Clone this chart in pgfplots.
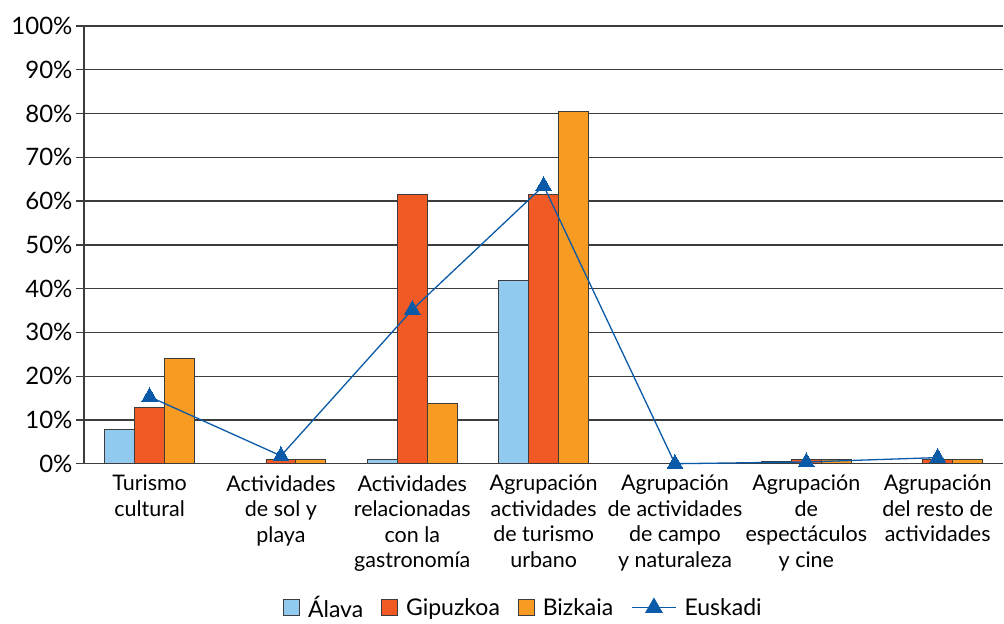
\documentclass[border=0pt]{standalone}
\usepackage{pgfplots}
\pgfplotsset{compat=1.18}
\usepackage{fontspec}
\setmainfont{Lato}
\definecolor{alava}{HTML}{92C9EE}
\definecolor{gipuzkoa}{HTML}{F15A24}
\definecolor{bizkaia}{HTML}{F79B23}
\definecolor{euskadi}{HTML}{0A5AA8}
\definecolor{edge}{HTML}{3C3C3C}
\begin{document}
\begin{tikzpicture}
\begin{axis}[
 scale only axis, width=920pt, height=438pt,
 xmin=-0.5, xmax=6.5, ymin=0, ymax=100,
 axis x line*=bottom, axis y line*=left,
 axis line style={edge, line width=1.3pt},
 xtick={0,...,6},
 xticklabels={{Turismo\\cultural},{Actividades\\de sol y\\playa},{Actividades\\relacionadas\\con la\\gastronomía},{Agrupación\\actividades\\de turismo\\urbano},{Agrupación\\de actividades\\de campo\\y naturaleza},{Agrupación\\de\\espectáculos\\y cine},{Agrupación\\del resto de\\actividades}},
 x tick label style={align=center, font=\fontsize{21.5}{25.5}\selectfont, anchor=north, yshift=0pt},
 major x tick style={draw=none},
 ytick={0,10,...,100},
 yticklabel={\pgfmathprintnumber{\tick}\%},
 y tick label style={font=\fontsize{24}{28}\selectfont},
 /pgf/number format/assume math mode=true,
 ymajorgrids, grid style={edge, line width=1.3pt},
 tick align=outside, major tick length=8pt,
 y tick style={edge, line width=1.3pt},
 bar width=30pt,
 clip=false,
 legend columns=4,
 legend style={draw=none, at={(0.478,-0.329)}, anchor=center, font=\fontsize{23}{26}\selectfont,
   /tikz/every odd column/.append style={column sep=6pt},
   /tikz/every even column/.append style={column sep=16pt}},
]
\addplot[ybar, bar shift=-30pt, fill=alava, draw=edge, line width=0.9pt,
  legend image code/.code={\draw[fill=alava,draw=edge,line width=0.9pt] (0pt,-8pt) rectangle (16pt,8pt);}]
  coordinates {(0,7.9) (1,0) (2,1.0) (3,41.8) (4,0) (5,0.5) (6,0)};
\addlegendentry{Álava}
\addplot[ybar, bar shift=0pt, fill=gipuzkoa, draw=edge, line width=0.9pt,
  legend image code/.code={\draw[fill=gipuzkoa,draw=edge,line width=0.9pt] (0pt,-8pt) rectangle (16pt,8pt);}]
  coordinates {(0,12.8) (1,1.0) (2,61.6) (3,61.6) (4,0) (5,1.0) (6,1.0)};
\addlegendentry{Gipuzkoa}
\addplot[ybar, bar shift=30pt, fill=bizkaia, draw=edge, line width=0.9pt,
  legend image code/.code={\draw[fill=bizkaia,draw=edge,line width=0.9pt] (0pt,-8pt) rectangle (16pt,8pt);}]
  coordinates {(0,24.0) (1,1.0) (2,13.7) (3,80.5) (4,0) (5,1.0) (6,1.0)};
\addlegendentry{Bizkaia}
\addplot[sharp plot, color=euskadi, line width=1.3pt, mark=triangle*, mark size=9pt,
  mark options={fill=euskadi, draw=euskadi, line width=0pt},
  legend image code/.code={\draw[euskadi, line width=1.3pt] (0pt,0pt) -- (44pt,0pt);
    \fill[euskadi] (22pt,9pt) -- (14.2pt,-4.5pt) -- (29.8pt,-4.5pt) -- cycle;}]
  coordinates {(0,15.3) (1,1.8) (2,35.2) (3,63.5) (4,0) (5,0.4) (6,1.4)};
\addlegendentry{Euskadi}
\path (axis description cs:-0.0913,-0.3653) (axis description cs:1.0,1.0594);
\end{axis}
\end{tikzpicture}
\end{document}
